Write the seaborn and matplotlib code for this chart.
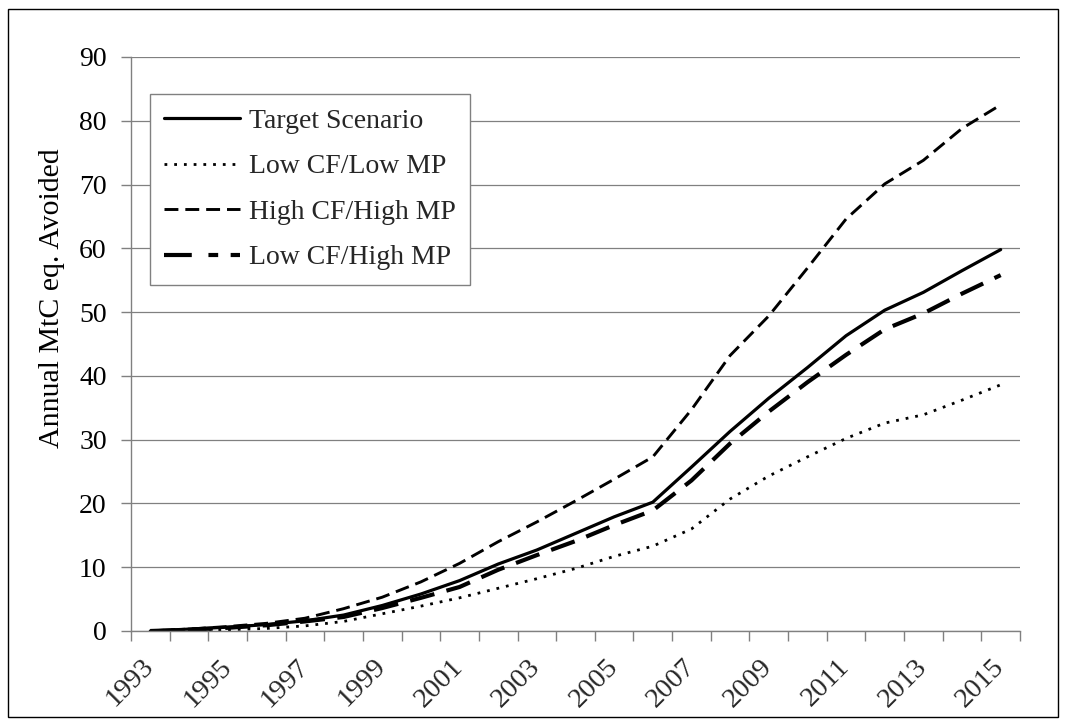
import matplotlib
matplotlib.use("Agg")
import matplotlib.pyplot as plt
import seaborn as sns
import numpy as np
import pandas as pd
from matplotlib.lines import Line2D
from matplotlib.patches import Rectangle

# ---- data ----
years = list(range(1993, 2016))
target = [0, 0.3, 0.6, 1.0, 1.6, 2.5, 4.0, 5.8, 7.9, 10.5, 12.7, 15.3, 17.9, 20.2,
          25.7, 31.3, 36.5, 41.3, 46.3, 50.3, 53.1, 56.5, 59.8]
low_cf_low_mp = [0, 0.1, 0.2, 0.4, 0.8, 1.5, 2.7, 3.9, 5.2, 6.7, 8.2, 9.8, 11.7, 13.3,
                 16.0, 20.7, 24.3, 27.3, 30.2, 32.6, 33.9, 36.2, 38.6]
high_cf_high_mp = [0, 0.3, 0.7, 1.2, 2.0, 3.5, 5.3, 7.7, 10.6, 14.0, 17.1, 20.4, 23.8, 27.3,
                   34.7, 43.2, 49.4, 56.9, 64.6, 70.1, 73.8, 78.8, 82.5]
low_cf_high_mp = [0, 0.2, 0.5, 0.9, 1.5, 2.2, 3.6, 5.2, 6.9, 9.6, 11.9, 14.1, 16.6, 18.9,
                  23.6, 29.4, 34.4, 39.0, 43.3, 47.3, 49.8, 52.9, 55.8]
series_names = ["Target Scenario", "Low CF/Low MP", "High CF/High MP", "Low CF/High MP"]
y_ticks = list(range(0, 100, 10))
x_labels = [str(y) for y in years[::2]]

sns.set_theme(style="white")
plt.rcParams["font.family"] = ["Liberation Serif", "DejaVu Serif"]
plt.rcParams["lines.scale_dashes"] = False

W, H = 1067, 724
fig = plt.figure(figsize=(W / 100, H / 100), dpi=100)
L, R, T, B = 131.0, 1020, 57.0, 631.0
ax = fig.add_axes([L / W, 1 - B / H, (R - L) / W, (B - T) / H])

x = np.arange(len(years))
df = pd.DataFrame({"x": x,
                   series_names[0]: target,
                   series_names[1]: low_cf_low_mp,
                   series_names[2]: high_cf_high_mp,
                   series_names[3]: low_cf_high_mp})

styles = {
    series_names[0]: dict(lw=2.3, dashes=None),
    series_names[1]: dict(lw=2.0, dashes=(2.0, 5.0)),
    series_names[2]: dict(lw=2.1, dashes=(10, 5)),
    series_names[3]: dict(lw=3.0, dashes=(18, 9)),
}

for name in series_names:
    sns.lineplot(data=df, x="x", y=name, ax=ax, color="black",
                 linewidth=styles[name]["lw"], legend=False)
    ln = ax.lines[-1]
    if styles[name]["dashes"] is not None:
        ln.set_dashes(styles[name]["dashes"])

ax.set_ylim(0, 90)
ax.set_xlim(-0.5, len(years) - 0.5)
ax.set_yticks(y_ticks)
ax.set_yticklabels([str(v) for v in y_ticks])
ax.yaxis.grid(True, color="#808080", lw=0.9)
ax.xaxis.grid(False)
ax.set_axisbelow(True)

# x: tick marks between categories, labels at every second category
ax.set_xticks(np.arange(-0.5, len(years), 1.0))
ax.set_xticklabels([])
ax.set_xticks(x[::2], minor=True)
ax.set_xticklabels(x_labels, minor=True)
ax.tick_params(axis="x", which="major", direction="out", length=7, width=1,
               color="#808080", bottom=True)
ax.tick_params(axis="x", which="minor", length=0, pad=23, labelsize=20.5)
for lab in ax.get_xticklabels(minor=True):
    lab.set_rotation(45)
    lab.set_ha("right")
    lab.set_va("center")
    lab.set_rotation_mode("anchor")

ax.tick_params(axis="y", which="major", direction="out", length=7.5, width=1,
               color="#808080", left=True, pad=10, labelsize=20, labelcolor="black")

for s in ["top", "right"]:
    ax.spines[s].set_visible(False)
for s in ["left", "bottom"]:
    ax.spines[s].set_color("#808080")
    ax.spines[s].set_linewidth(1)

ax.set_xlabel("")
ax.set_ylabel("Annual MtC eq. Avoided", fontsize=21.5, color="black")
ax.yaxis.label.set_va("center")
ax.yaxis.set_label_coords((52 - L) / (R - L), (B - 298) / (B - T))

handles = [
    Line2D([], [], color="black", lw=2.3),
    Line2D([], [], color="black", lw=2.0, dashes=(2.0, 5.0)),
    Line2D([], [], color="black", lw=2.1, dashes=(10, 5)),
    Line2D([], [], color="black", lw=3.0, dashes=(20, 12, 7, 9, 7, 20)),
]
leg = ax.legend(handles, series_names, loc="upper left",
                bbox_to_anchor=((150 - L) / (R - L), (B - 94) / (B - T)),
                borderaxespad=0, frameon=True, fancybox=False, edgecolor="#808080",
                framealpha=1, fontsize=20, handlelength=2.73, handletextpad=0.3,
                labelspacing=0.72, borderpad=0.52)
leg.get_frame().set_linewidth(1)

fig.patches.append(Rectangle((8 / W, 1 - 717 / H), (1058 - 8) / W, (717 - 9) / H,
                             transform=fig.transFigure, fill=False,
                             edgecolor="black", lw=1))

fig.savefig("out.png", dpi=100)
